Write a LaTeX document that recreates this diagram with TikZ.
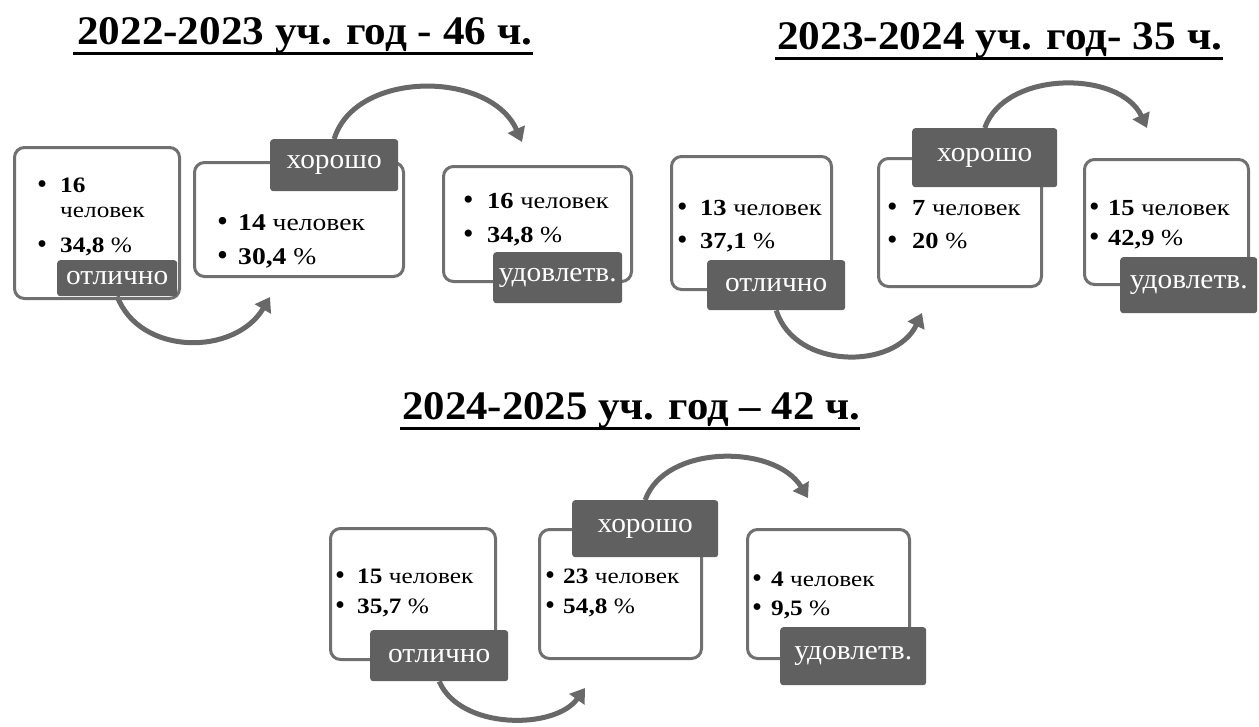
\documentclass[tikz,border=0pt]{standalone}
\usepackage{fontspec}
\setmainfont{Liberation Serif}
\usetikzlibrary{arrows.meta,calc}
\definecolor{boxgray}{RGB}{112,112,112}
\definecolor{labgray}{RGB}{96,96,96}
\definecolor{arrgray}{RGB}{104,104,104}
\pgfdeclarelayer{bg}
\pgfsetlayers{bg,main}
\newcommand\bl[2]{\makebox[#1pt][l]{\raisebox{-0.08em}{\scalebox{1.3}{•}}}\scalebox{1.15}[1]{#2}}
\newcommand\widetxt[1]{\scalebox{1.15}[1]{#1}}
\newcommand\labtxt[1]{\scalebox{1.05}[1]{#1}}
\tikzset{
 box/.style={draw=boxgray, line width=3pt, rounded corners=10pt, anchor=north west, inner sep=0pt},
 lab/.style={fill=labgray, text=white, rounded corners=3pt, anchor=north west, inner sep=0pt, font=\fontsize{28}{28}\selectfont},
 txt/.style={anchor=base west, inner sep=0pt, font=\fontsize{23}{23}\selectfont},
 txtl/.style={txt, font=\fontsize{24}{24}\selectfont},
 txts/.style={txt, font=\fontsize{22}{22}\selectfont},
 flow/.style={draw=arrgray, line width=5pt, -{Triangle[length=14pt,width=18pt]}},
 ttl/.style={anchor=base west, inner sep=0pt},
 uline/.style={line width=3.5pt, black}
}
\begin{document}
\begin{tikzpicture}[x=1pt,y=-1pt]
\begin{pgfonlayer}{bg}
\fill[white] (0,0) rectangle (1259,726);
\end{pgfonlayer}
\useasboundingbox (0,0) rectangle (1259,726);

% titles
\node[ttl] (t1) at (77,44) {\resizebox{455pt}{27pt}{\bfseries 2022-2023 уч. год - 46 ч.}};
\node[ttl] (t2) at (777,49) {\resizebox{445pt}{27pt}{\bfseries 2023-2024 уч. год- 35 ч.}};
\node[ttl] (t3) at (402,419) {\resizebox{458pt}{27pt}{\bfseries 2024-2025 уч. год – 42 ч.}};
\draw[uline] ($(t1.base west)+(-4,9.5)$) -- ($(t1.base east)+(0,9.5)$);
\draw[uline] ($(t2.base west)+(-2,9.5)$) -- ($(t2.base east)+(0,9.5)$);
\draw[uline] ($(t3.base west)+(-2,9.5)$) -- ($(t3.base east)+(0,9.5)$);

% boxes
\node[box, minimum width=165pt, minimum height=151pt] (b1) at (13,146) {};
\node[box, minimum width=209pt, minimum height=114pt] (b2) at (193,161) {};
\node[box, minimum width=188pt, minimum height=115pt] (b3) at (442,165) {};
\node[box, minimum width=160pt, minimum height=133pt] (b4) at (670,155) {};
\node[box, minimum width=163pt, minimum height=128pt] (b5) at (877,157) {};
\node[box, minimum width=164pt, minimum height=125pt] (b6) at (1083,158) {};
\node[box, minimum width=165pt, minimum height=131pt] (b7) at (329,527) {};
\node[box, minimum width=162pt, minimum height=129pt] (b8) at (538,528) {};
\node[box, minimum width=162pt, minimum height=129pt] (b9) at (746,528) {};

% texts
\node[txts] (x1a) at (37,192) {\bl{23}{\textbf{16}}};
\node[txts] (x1b) at (60,217) {\widetxt{человек}};
\node[txts] (x1c) at (37,252) {\bl{23}{\textbf{34,8} \%}};
\node[txtl] (x2a) at (217,230) {\bl{21}{\textbf{14} человек}};
\node[txtl] (x2b) at (217,264) {\bl{21}{\textbf{30,4} \%}};
\node[txt] (x3a) at (463,208) {\bl{24}{\textbf{16} человек}};
\node[txt] (x3b) at (463,242) {\bl{24}{\textbf{34,8} \%}};
\node[txt] (x4a) at (677,215) {\bl{23}{\textbf{13} человек}};
\node[txt] (x4b) at (677,248) {\bl{23}{\textbf{37,1} \%}};
\node[txt] (x5a) at (887,215) {\bl{25}{\textbf{7} человек}};
\node[txt] (x5b) at (887,248) {\bl{25}{\textbf{20} \%}};
\node[txt] (x6a) at (1089,215) {\bl{19}{\textbf{15} человек}};
\node[txt] (x6b) at (1089,245) {\bl{19}{\textbf{42,9} \%}};
\node[txts] (x7a) at (335,583) {\bl{22}{\textbf{15} человек}};
\node[txts] (x7b) at (335,613) {\bl{22}{\textbf{35,7} \%}};
\node[txts] (x8a) at (545,583) {\bl{18}{\textbf{23} человек}};
\node[txts] (x8b) at (545,613) {\bl{18}{\textbf{54,8} \%}};
\node[txts] (x9a) at (752,586) {\bl{19}{\textbf{4} человек}};
\node[txts] (x9b) at (752,615) {\bl{19}{\textbf{9,5} \%}};

% labels
\node[lab, minimum width=120pt, minimum height=36pt] (l1) at (57,260) {\labtxt{отлично}};
\node[lab, minimum width=128pt, minimum height=52pt] (l2) at (270,139) {\labtxt{хорошо}};
\node[lab, minimum width=129pt, minimum height=51pt] (l3) at (493,252) {\labtxt{удовлетв.}};
\node[lab, minimum width=138pt, minimum height=50pt] (l4) at (707,260) {\labtxt{отлично}};
\node[lab, minimum width=145pt, minimum height=59pt] (l5) at (912,128) {\labtxt{хорошо}};
\node[lab, minimum width=137pt, minimum height=56pt] (l6) at (1120,257) {\labtxt{удовлетв.}};
\node[lab, minimum width=138pt, minimum height=51pt] (l7) at (370,630) {\labtxt{отлично}};
\node[lab, minimum width=146pt, minimum height=57pt] (l8) at (572,500) {\labtxt{хорошо}};
\node[lab, minimum width=146pt, minimum height=58pt] (l9) at (780,627) {\labtxt{удовлетв.}};

% arrow ends
\coordinate (e1) at (270,297);
\coordinate (e2) at (522,142);
\coordinate (e3) at (922,313);
\coordinate (e4) at (1147,128);
\coordinate (e5) at (585,688);
\coordinate (e6) at (808,498);

\begin{pgfonlayer}{bg}
\draw[flow] (l1.south) .. controls (140,356) and (235,356) .. (e1);
\draw[flow] (l2.north) .. controls (355,70) and (490,70) .. (e2);
\draw[flow] (l4.south) .. controls (795,370) and (895,370) .. (e3);
\draw[flow] (l5.north) .. controls (1005,70) and (1120,70) .. (e4);
\draw[flow] (l7.south) .. controls (460,730) and (555,730) .. (e5);
\draw[flow] (l8.north) .. controls (665,444) and (775,444) .. (e6);
\end{pgfonlayer}
\end{tikzpicture}
\end{document}
